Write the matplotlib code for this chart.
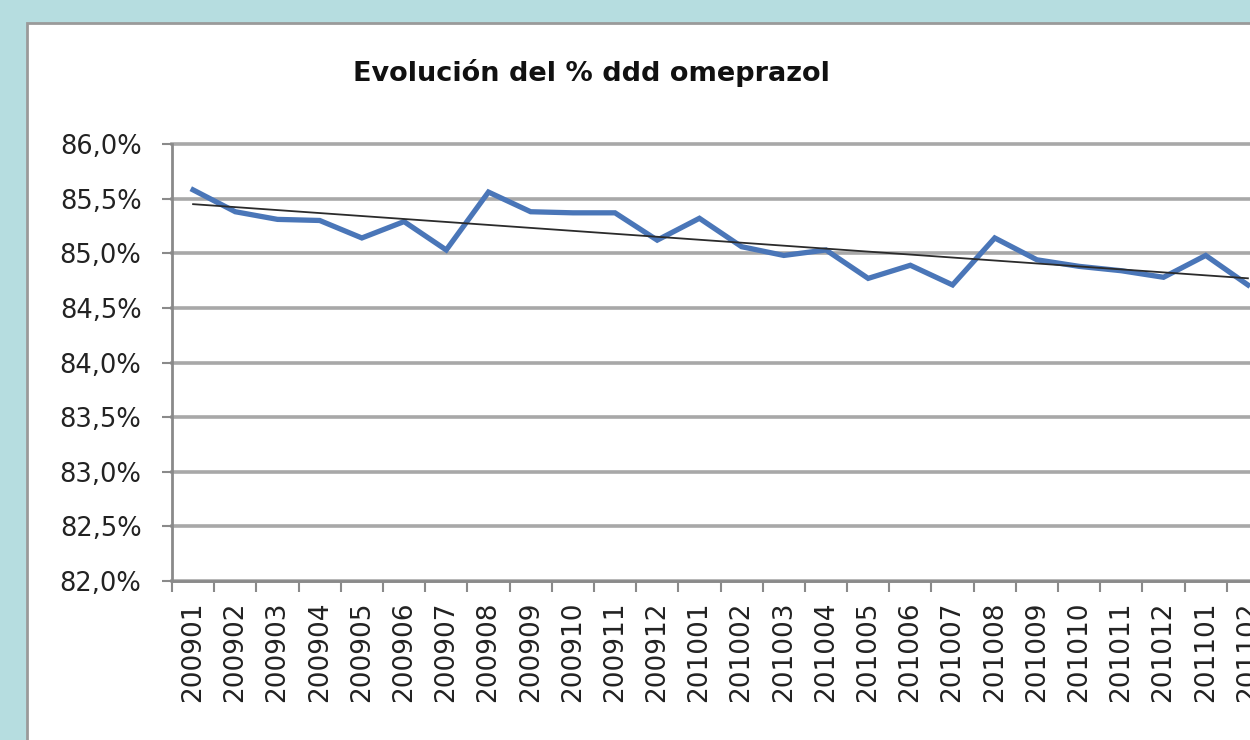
import numpy as np
import matplotlib.pyplot as plt
from matplotlib.patches import Rectangle
from matplotlib.ticker import FuncFormatter, FixedLocator

# months (yyyymm) and % ddd omeprazol
periods = ["200901", "200902", "200903", "200904", "200905", "200906", "200907",
           "200908", "200909", "200910", "200911", "200912", "201001", "201002",
           "201003", "201004", "201005", "201006", "201007", "201008", "201009",
           "201010", "201011", "201012", "201101", "201102"]
pct = [85.58, 85.38, 85.31, 85.30, 85.14, 85.29, 85.03, 85.56, 85.38, 85.37,
       85.37, 85.12, 85.32, 85.06, 84.98, 85.03, 84.77, 84.89, 84.71, 85.14,
       84.94, 84.88, 84.84, 84.78, 84.98, 84.71]
y_ticks = [82.0, 82.5, 83.0, 83.5, 84.0, 84.5, 85.0, 85.5, 86.0]

W, H = 1250, 740
fig = plt.figure(figsize=(W / 100, H / 100), dpi=100)
fig.patch.set_facecolor("#b6dde0")

# white chart area with grey frame
fig.patches.append(Rectangle((27 / W, -0.05), 1.1, (H - 23) / H + 0.05,
                             transform=fig.transFigure, facecolor="white",
                             edgecolor="#9a9a9a", linewidth=2, zorder=-10))

left, right, top, bottom = 172, 1269, 144, 581
ax = fig.add_axes([left / W, (H - bottom) / H, (right - left) / W, (bottom - top) / H])
ax.set_facecolor("none")

x = np.arange(len(periods))
ax.plot(x, pct, color="#4a76b8", linewidth=3.8, solid_joinstyle="miter", zorder=3)

# linear trendline
k, b = np.polyfit(x, pct, 1)
ax.plot(x, k * x + b, color="#2b2b2b", linewidth=1.3, zorder=4)

ax.set_xlim(-0.5, len(periods) - 0.5)
ax.set_ylim(82.0, 86.0)
ax.set_yticks(y_ticks)
ax.yaxis.set_major_formatter(FuncFormatter(lambda v, p: f"{v:.1f}%".replace(".", ",")))
ax.yaxis.grid(True, color="#a8a8a8", linewidth=2.6)
for gl in ax.get_ygridlines():
    gl.set_clip_on(False)
ax.set_axisbelow(True)

ax.set_xticks(x)
ax.set_xticklabels(periods, rotation=90)
ax.xaxis.set_minor_locator(FixedLocator(np.arange(-0.5, len(periods), 1.0)))
ax.tick_params(axis="x", which="major", length=0, pad=15, labelsize=19, labelcolor="#222222")
ax.tick_params(axis="x", which="minor", length=8, width=1.5, color="#8a8a8a")
ax.tick_params(axis="y", length=7, width=1.5, color="#8a8a8a", labelsize=18.5,
               labelcolor="#222222", pad=15)

for s in ["top", "right"]:
    ax.spines[s].set_visible(False)
ax.spines["left"].set_color("#8a8a8a")
ax.spines["left"].set_linewidth(2)
ax.spines["bottom"].set_color("#8a8a8a")
ax.spines["bottom"].set_linewidth(2)

fig.text(591 / W, (H - 73) / H, "Evolución del % ddd omeprazol", ha="center", va="center",
         fontsize=19.5, fontweight="bold", color="#111111")

fig.savefig("out.png", dpi=100, facecolor=fig.get_facecolor())
